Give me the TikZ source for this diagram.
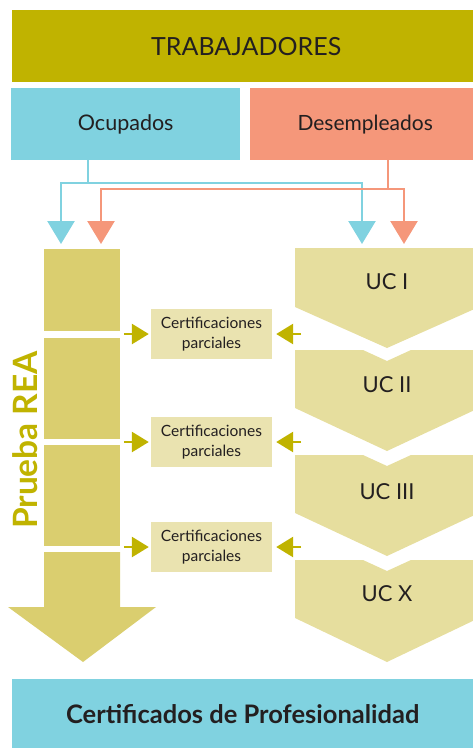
\documentclass[tikz,border=0pt]{standalone}
\usepackage{fontspec}
\setmainfont{Lato}
\usetikzlibrary{arrows.meta}
\definecolor{olive}{RGB}{192,179,0}
\definecolor{skyb}{RGB}{128,210,224}
\definecolor{salmon}{RGB}{245,151,122}
\definecolor{colblk}{RGB}{218,206,111}
\definecolor{chev}{RGB}{230,222,158}
\definecolor{certc}{RGB}{234,227,176}
\definecolor{ink}{RGB}{35,31,32}
\tikzset{
  box/.style={inner sep=0pt, text=ink, anchor=north west},
  blk/.style={fill=colblk, inner sep=0pt, anchor=north west, minimum width=76pt},
  cert/.style={fill=certc, inner sep=0pt, minimum width=121pt, minimum height=50pt, text=ink, align=center, font=\fontsize{15.5}{20.5}\selectfont},
  uclbl/.style={text=ink, font=\fontsize{22}{26}\selectfont},
  flowb/.style={draw=skyb, line width=2.6pt, -{Triangle[length=23pt,width=27pt]}},
  flowr/.style={draw=salmon, line width=2.6pt, -{Triangle[length=23pt,width=27pt]}},
  small/.style={draw=olive, line width=2.8pt, -{Triangle[length=17pt,width=20pt]}},
  chevfill/.style={fill=chev}
}
\begin{document}
\begin{tikzpicture}[x=1pt,y=-1pt]
\useasboundingbox (0,0) rectangle (473,748);
% top boxes
\node[box, fill=olive, minimum width=468pt, minimum height=72pt, font=\fontsize{25}{29}\selectfont] (trab) at (12,10) {TRABAJADORES};
\node[box, fill=skyb, minimum width=229pt, minimum height=72pt, font=\fontsize{21.5}{25}\selectfont] (ocup) at (11,88) {Ocupados};
\node[box, fill=salmon, minimum width=230pt, minimum height=72pt, font=\fontsize{21}{25}\selectfont] (desem) at (250,88) {Desempleados};
% left column
\node[blk, minimum height=82pt] (b1) at (44,249) {};
\node[blk, minimum height=101pt] (b2) at (44,338) {};
\node[blk, minimum height=101pt] (b3) at (44,445) {};
\fill[colblk] (44,552) -- (120,552) -- (120,607) -- (156,607) -- (83,662) -- (8,607) -- (44,607) -- cycle;
\coordinate (b4) at (82,552);
\node[rotate=90, text=olive, font=\bfseries\fontsize{33.5}{37}\selectfont] (rea) at (25,440) {Prueba REA};
% chevrons
\fill[chevfill] (295,248) -- (479,248) -- (479,307) -- (387,348) -- (295,307) -- cycle;
\fill[chevfill] (295,350) -- (363,350) -- (387,361) -- (411,350) -- (479,350) -- (479,408) -- (387,451) -- (295,408) -- cycle;
\fill[chevfill] (295,455) -- (363,455) -- (387,466) -- (411,455) -- (479,455) -- (479,513) -- (387,556) -- (295,513) -- cycle;
\fill[chevfill] (295,560) -- (363,560) -- (387,571) -- (411,560) -- (479,560) -- (479,618) -- (387,662) -- (295,618) -- cycle;
\node[uclbl] (uc1) at (387,282) {UC I};
\node[uclbl] (uc2) at (387,385) {UC II};
\node[uclbl] (uc3) at (387,492) {UC III};
\node[uclbl] (ucx) at (387,594) {UC X};
% certification boxes
\node[cert] (c1) at (211.5,334) {Certificaciones\\parciales};
\node[cert] (c2) at (211.5,442) {Certificaciones\\parciales};
\node[cert] (c3) at (211.5,547) {Certificaciones\\parciales};
% arrow anchors
\coordinate (bl) at (61,244);
\coordinate (rl) at (101,244);
\coordinate (br) at (362,244);
\coordinate (rr) at (404,244);
\coordinate (bj) at (88,183);
\coordinate (rj) at (388,189);
% flows
\draw[skyb, line width=2.6pt] (ocup.south -| bj) -- (bj);
\draw[flowb] (bj) -| (bl);
\draw[flowb] (bj) -| (br);
\draw[salmon, line width=2.6pt] (desem.south -| rj) -- (rj);
\draw[flowr] (rj) -| (rl);
\draw[flowr] (rj) -| (rr);
% small arrows
\foreach \c in {c1,c2,c3}{
  \draw[small] (\c.west) ++(-27,0) -- ([xshift=-2pt]\c.west);
  \draw[small] (\c.east) ++(29,0) -- ([xshift=4pt]\c.east);
}
% bottom
\node[box, fill=skyb, minimum width=461pt, minimum height=69pt, font=\bfseries\fontsize{25.5}{29}\selectfont] (cert) at (12,679) {Certificados de Profesionalidad};
\end{tikzpicture}
\end{document}
